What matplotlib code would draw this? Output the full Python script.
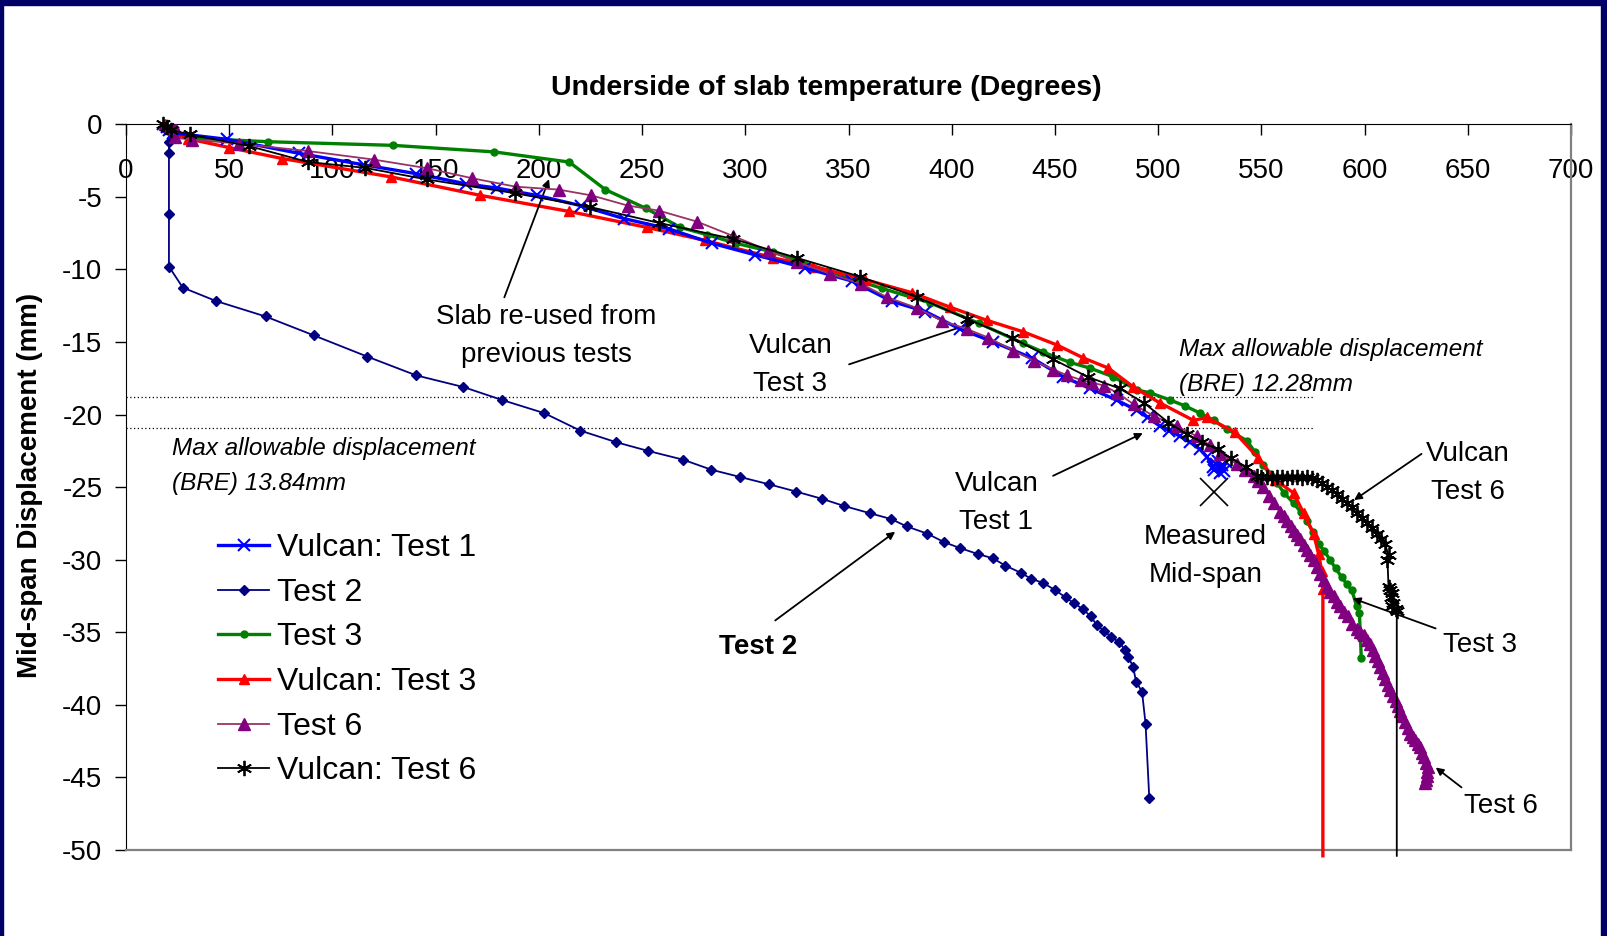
import matplotlib
matplotlib.use("Agg")
import matplotlib.pyplot as plt
from matplotlib.patches import Rectangle
import numpy as np

plt.rcParams["font.family"] = ["Liberation Sans", "DejaVu Sans"]
plt.rcParams["axes.unicode_minus"] = False

# ---- data (temperature degC, mid-span displacement mm) ----
vulcan_test1 = np.array([
    (18, 0), (20, -0.2), (21, -0.4), (23, -0.6), (48.8, -1.03), (83.8, -2.0),
    (115.5, -2.8), (140.5, -3.4), (164.6, -4.1), (179.9, -4.4), (199, -4.9),
    (220.2, -5.6), (241.3, -6.5), (262.9, -7.2), (283.9, -8.2), (304.9, -9.0),
    (329.1, -9.9), (351.7, -10.8), (371, -12.2), (387.2, -12.9), (404, -14.1),
    (420.2, -15.0), (438.8, -16.1), (454.1, -17.4), (467, -18.2), (479.9, -19.0),
    (489.6, -19.7), (495, -20.2), (500.9, -20.8), (505.5, -21.1), (510.7, -21.5),
    (515.5, -21.9), (520.3, -22.4), (523.5, -22.9), (526.8, -23.6), (529, -23.2),
    (531, -23.5), (533, -23.3), (530, -24.0), (527, -23.8), (532, -23.9), (528, -23.4),
])

test2 = np.array([
    (20.8, 0), (20.8, -1.2), (20.8, -2.0), (20.8, -6.2), (20.8, -9.8), (27.5, -11.25),
    (43.5, -12.17), (67.6, -13.24), (91.1, -14.55), (116.8, -16.0), (140.6, -17.3),
    (163.4, -18.1), (182.3, -19.0), (202.6, -19.9), (220, -21.1), (237.4, -21.9),
    (252.8, -22.5), (269.7, -23.1), (283.6, -23.8), (297.5, -24.3), (311.4, -24.8),
    (324.5, -25.3), (337.1, -25.8), (347.9, -26.3), (360.5, -26.8), (370.7, -27.2),
    (378.1, -27.7), (388.1, -28.2), (396.5, -28.8), (404.1, -29.2), (412.5, -29.6),
    (419.9, -29.9), (425.9, -30.4), (433.5, -30.9), (438.3, -31.3), (444.3, -31.6),
    (450.2, -32.1), (455.2, -32.6), (459.3, -33.0), (463.5, -33.4), (467.3, -33.9),
    (470.3, -34.5), (473.7, -34.9), (477.2, -35.3), (481.2, -35.7), (483.9, -36.2),
    (485.6, -36.7), (487.9, -37.4), (489.3, -38.4), (492.2, -39.1), (493.9, -41.3),
    (495.7, -46.4),
])

test3 = np.array([
    (19, 0), (21, -0.3), (22, -0.6), (24, -0.9), (68.8, -1.2), (129.3, -1.45),
    (178.3, -1.9), (214.7, -2.6), (232.2, -4.5), (252, -5.8), (268.4, -7.1),
    (281.3, -7.6), (295.5, -8.2), (313.6, -8.8), (340, -10.1), (366.1, -11.3),
    (389.5, -12.3), (413, -13.7), (434.7, -15.1), (444.4, -15.7), (457.2, -16.4),
    (467, -16.8), (478.3, -17.4), (489.6, -18.3), (496.1, -18.5), (505.8, -19.0),
    (513, -19.4), (520.3, -19.9), (527, -20.4), (533.3, -21.0), (543, -21.8),
    (547, -22.6), (551, -23.5), (554, -24.1), (557.5, -24.7), (561, -25.4),
    (565.6, -26.1), (569, -26.7), (572, -27.3), (575, -28.1), (577.7, -28.9),
    (580.5, -29.4), (583.2, -30.0), (586, -30.6), (588.9, -31.2), (591.5, -31.7),
    (593.8, -32.1), (596.2, -33.2), (597.5, -33.7), (598, -35.3), (598.4, -36.8),
])

vulcan_test3 = np.array([
    (19, 0), (21, -0.3), (23, -0.5), (30, -1.0), (50, -1.6), (75.7, -2.36),
    (128.6, -3.63), (171.4, -4.89), (214.5, -6.0), (252.3, -7.1), (280.5, -8.0),
    (313.6, -9.2), (333, -9.8), (358, -10.7), (380.7, -11.6), (399.2, -12.6),
    (416.9, -13.5), (434.7, -14.3), (450.9, -15.2), (463.8, -16.1), (475.9, -16.8),
    (488, -18.1), (500.9, -19.2), (517.1, -20.4), (523.6, -20.2), (537, -21.2),
    (548.6, -23.0), (556.7, -24.5), (565.6, -25.4), (570.5, -26.8), (575.3, -28.2),
    (577.7, -29.6), (579.3, -30.8), (579.8, -32.0), (579.8, -50.4),
])

test6 = np.array([
    (19, 0), (21, -0.1), (23.3, -0.1), (23.5, -0.9), (31.9, -1.05), (54.5, -1.33),
    (88, -1.84), (120, -2.43), (146, -3.03), (167.8, -3.72), (188.8, -4.3),
    (209.7, -4.5), (225.5, -4.9), (243.1, -5.6), (258.2, -5.95), (276.5, -6.7),
    (294.2, -7.7), (311.2, -8.7), (324.9, -9.5), (341.1, -10.3), (356.2, -11.0),
    (368.5, -11.9), (383, -12.65), (395.5, -13.55), (407.3, -14.1), (417.8, -14.7),
    (429.9, -15.6), (440, -16.3), (449.3, -16.9), (456, -17.3), (462.4, -17.6),
    (468, -17.8), (473.7, -18.0), (480.1, -18.5), (488.2, -19.3), (497.9, -20.1),
    (509.1, -20.8), (518.8, -21.5), (525, -22.1), (530, -22.7), (538, -23.4),
    (542, -23.8), (546.2, -24.2), (548.5, -24.6), (551, -25.0), (553.5, -25.6),
    (555.9, -26.1), (559, -26.7), (560.8, -27.0), (562.4, -27.3), (564.2, -27.7),
    (566, -28.0), (567.5, -28.3), (568.9, -28.6), (570.5, -29.0), (572, -29.3),
    (573.7, -29.7), (575.3, -30.0), (577, -30.5), (578.5, -31.0), (580.2, -31.4),
    (581.8, -31.9), (583.4, -32.2), (585, -32.5), (586.7, -32.9), (588.3, -33.2),
    (590.2, -33.6), (592, -33.9), (594, -34.4), (596.2, -34.8), (597.8, -35.0),
    (599.5, -35.2), (601.1, -35.5), (602.7, -35.8), (603.9, -36.2), (605, -36.6),
    (606.3, -37.0), (607.5, -37.4), (608.8, -37.8), (610, -38.2), (611.2, -38.6),
    (612.4, -39.0), (613.7, -39.4), (615, -39.7), (616.1, -40.1), (617.2, -40.4),
    (618.3, -40.8), (619.5, -41.2), (620.8, -41.6), (622, -42.0), (623.3, -42.2),
    (624.5, -42.4), (625.7, -42.7), (626.9, -42.9), (628, -43.3), (629, -43.6),
    (629.9, -44.0), (630.7, -44.3), (630.3, -44.6), (630, -44.9), (629.6, -45.2),
    (629.3, -45.4),
])

vulcan_test6 = np.array([
    (18, 0), (20, -0.2), (22, -0.4), (31, -0.7), (59.6, -1.5), (88.3, -2.6),
    (115.8, -3.0), (145.7, -3.8), (188.5, -4.75), (224.8, -5.7), (258.4, -6.8),
    (294.2, -7.9), (324.9, -9.2), (355.6, -10.5), (383.1, -11.9), (407.3, -13.4),
    (429.1, -14.7), (449.3, -16.2), (465.8, -17.4), (481.3, -18.2), (493.2, -19.2),
    (505, -20.55), (513.9, -21.35), (521.2, -21.9), (528.8, -22.4), (535.3, -23.0),
    (542.5, -23.6), (547.8, -24.2), (550, -24.3), (552.7, -24.3), (555, -24.4),
    (557.5, -24.3), (560, -24.3), (562.4, -24.4), (565, -24.3), (567.2, -24.3),
    (569.5, -24.4), (572, -24.3), (574.5, -24.4), (576.9, -24.5), (579.3, -24.7),
    (581.7, -25.0), (584, -25.2), (586.6, -25.5), (589, -25.8), (591.4, -26.1),
    (593.8, -26.4), (596.2, -26.8), (598.6, -27.1), (601.1, -27.5), (603.5, -27.8),
    (605.9, -28.2), (608, -28.6), (609.9, -28.9), (611.6, -29.7), (611.1, -30.0),
    (611.6, -31.9), (612.5, -32.1), (613.2, -32.3), (612.8, -32.6), (614, -33.0),
    (613.5, -33.2), (615, -33.4), (615.6, -33.5), (615.6, -50.4),
])

measured_midspan = (527.3, -25.3)
bre_limits = [-18.8, -20.95]          # dotted limit lines (mm)
bre_extent = (0, 575)

x_ticks = np.arange(0, 701, 50)
y_ticks = np.arange(0, -51, -5)

# annotations: text, text position, arrow tail, arrow tip
notes = [
    ("Slab re-used from\nprevious tests", (203.6, -14.6), (182.8, -12.1), (205.4, -3.6)),
    ("Vulcan\nTest 3", (321.8, -16.55), (349, -16.6), (412.2, -13.6)),
    ("Vulcan\nTest 1", (421.6, -26.1), (447.9, -24.3), (493.8, -21.2)),
    ("Vulcan\nTest 6", (650, -24.0), (628.7, -22.6), (593.8, -26.0)),
    ("Test 3", (655.8, -35.9), (635.7, -34.8), (593, -32.6)),
    ("Test 6", (666, -46.95), (648, -45.8), (633.4, -44.2)),
]

fig = plt.figure(figsize=(16.07, 9.36), dpi=100)
fig.patch.set_facecolor("white")
ax = fig.add_axes([126 / 1607, 1 - 850 / 936, (1571 - 126) / 1607, (850 - 124.3) / 936])

asterisk = (6, 2, 0)
ax.plot(*vulcan_test1.T, color="#0000FF", lw=2.4, marker="x", ms=8, mew=1.5,
        label="Vulcan: Test 1", zorder=4)
ax.plot(*test2.T, color="#000080", lw=1.3, marker="D", ms=5, label="Test 2", zorder=3)
ax.plot(*test3.T, color="#008000", lw=2.4, marker="o", ms=5, label="Test 3", zorder=3)
ax.plot(*vulcan_test3.T, color="#FF0000", lw=2.4, marker="^", ms=7,
        markevery=list(range(len(vulcan_test3) - 1)), label="Vulcan: Test 3",
        zorder=3, clip_on=False)
ax.plot(*test6.T, color="#993366", lw=1.3, marker="^", ms=8, mfc="#800080",
        mec="#800080", label="Test 6", zorder=4)
ax.plot(*vulcan_test6.T, color="black", lw=1.3, marker=asterisk, ms=11, mew=1.3,
        markevery=list(range(len(vulcan_test6) - 1)), label="Vulcan: Test 6",
        zorder=5, clip_on=False)
ax.plot(*measured_midspan, marker="x", ms=20, mew=1.2, color="black", zorder=5)

for yl in bre_limits:
    ax.plot(bre_extent, [yl, yl], color="black", lw=0.9, ls=(0, (1, 2)), zorder=2)

ax.set_xlim(0, 700)
ax.set_ylim(-50, 0)
ax.set_xticks(x_ticks)
ax.set_yticks(y_ticks)
ax.xaxis.tick_top()
ax.tick_params(axis="x", direction="in", length=8, width=1, labelsize=20, pad=-43)
ax.tick_params(axis="y", direction="out", length=8, width=1, labelsize=20, pad=9)
ax.spines["top"].set_color("black")
ax.spines["left"].set_color("black")
for s in ("right", "bottom"):
    ax.spines[s].set_color("#808080")
    ax.spines[s].set_linewidth(1.6)

for text, pos, tail, tip in notes:
    ax.text(*pos, text, fontsize=20, ha="center", va="center", linespacing=1.6)
    ax.annotate("", xy=tip, xytext=tail,
                arrowprops=dict(arrowstyle="-|>", color="black", lw=1.3, mutation_scale=11))

ax.text(522.9, -29.75, "Measured\nMid-span", fontsize=20, ha="center", va="center",
        linespacing=1.6)
ax.text(306.4, -36.0, "Test 2", fontsize=20, fontweight="bold", ha="center", va="center")
ax.annotate("", xy=(373.7, -27.96), xytext=(313.4, -34.3),
            arrowprops=dict(arrowstyle="-|>", color="black", lw=1.3, mutation_scale=11))

ax.text(22.3, -23.55, "Max allowable displacement\n(BRE) 13.84mm", fontsize=17.5,
        style="italic", ha="left", va="center", linespacing=1.65)
ax.text(510, -16.7, "Max allowable displacement\n(BRE) 12.28mm", fontsize=17.5,
        style="italic", ha="left", va="center", linespacing=1.65)

ax.legend(loc="upper left", bbox_to_anchor=(218 / 1607, 1 - 533 / 936),
          bbox_transform=fig.transFigure, frameon=False, fontsize=23,
          borderpad=0, borderaxespad=0, handlelength=1.6, handletextpad=0.25,
          labelspacing=0.46)

fig.text(826 / 1607, 1 - 88 / 936, "Underside of slab temperature (Degrees)",
         fontsize=20.5, fontweight="bold", ha="center", va="center")
fig.text(30 / 1607, 1 - 485 / 936, "Mid-span Displacement (mm)", fontsize=20,
         fontweight="bold", rotation=90, ha="center", va="center")

# navy slide border
navy = "#000066"
fig.add_artist(Rectangle((0, 1 - 5 / 936), 1, 5 / 936, transform=fig.transFigure,
                         color=navy, zorder=10))
fig.add_artist(Rectangle((0, 0), 3 / 1607, 1, transform=fig.transFigure,
                         color=navy, zorder=10))
fig.add_artist(Rectangle((1 - 6 / 1607, 0), 6 / 1607, 1, transform=fig.transFigure,
                         color=navy, zorder=10))

fig.savefig("out.png", dpi=100)
